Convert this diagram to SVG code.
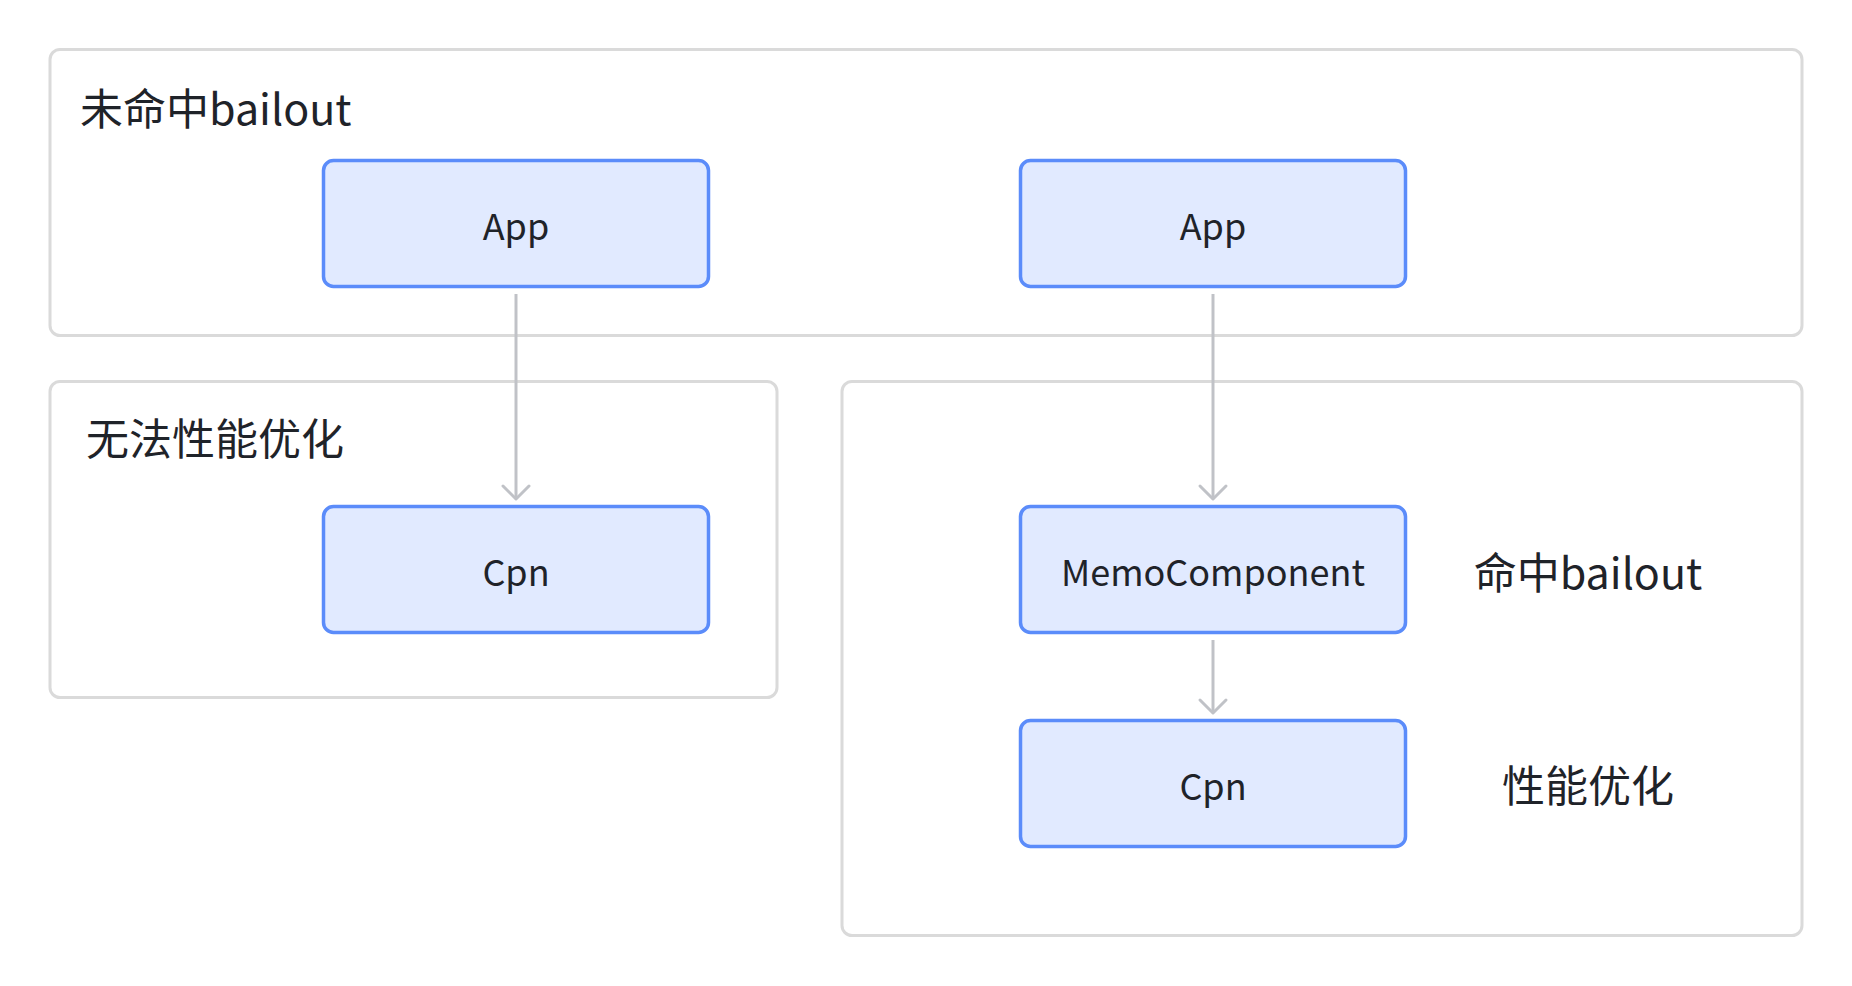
<svg xmlns="http://www.w3.org/2000/svg" width="1852" height="986" viewBox="0 0 1852 986">
  <style>
    .container { fill: #ffffff; stroke: #dadada; stroke-width: 3; }
    .node rect { fill: #e1eaff; stroke: #5b8cfa; stroke-width: 3.5; }
    .node text { font-family: "Noto Sans CJK SC", "Noto Sans", sans-serif; font-size: 36px; fill: #1f2329; text-anchor: middle; }
    .label { font-family: "Noto Sans CJK SC", "Noto Sans", sans-serif; font-size: 43px; fill: #1f2329; }
    .edge { stroke: #c0c2c7; stroke-width: 3; fill: none; marker-end: url(#arrow); }
  </style>
  <defs>
    <marker id="arrow" markerUnits="userSpaceOnUse" viewBox="-16 -16 32 32" markerWidth="32" markerHeight="32" refX="0" refY="0" orient="auto">
      <path d="M -13 -13 L 0 0 L -13 13" fill="none" stroke="#c0c2c7" stroke-width="3" stroke-linecap="round" stroke-linejoin="round"/>
    </marker>
  </defs>
  <rect width="1852" height="986" fill="#ffffff"/>

  <g id="group-no-bailout">
    <rect class="container" x="50" y="49.5" width="1752" height="286" rx="10"/>
    <text class="label" x="80" y="125">未命中bailout</text>
  </g>
  <g id="group-no-optimize">
    <rect class="container" x="50" y="381.5" width="727" height="316" rx="10"/>
    <text class="label" x="86" y="455">无法性能优化</text>
  </g>
  <g id="group-bailout">
    <rect class="container" x="842" y="381.5" width="960" height="554" rx="10"/>
    <text class="label" x="1588" y="589" text-anchor="middle">命中bailout</text>
    <text class="label" x="1588" y="802" text-anchor="middle">性能优化</text>
  </g>

  <g id="connectors">
    <line class="edge" x1="516" y1="294" x2="516" y2="499"/>
    <line class="edge" x1="1213" y1="294" x2="1213" y2="499"/>
    <line class="edge" x1="1213" y1="640" x2="1213" y2="713"/>
  </g>

  <g id="node-app-1" class="node">
    <rect x="323.5" y="160.5" width="385" height="126" rx="10"/>
    <text x="516" y="239.5">App</text>
  </g>
  <g id="node-app-2" class="node">
    <rect x="1020.5" y="160.5" width="385" height="126" rx="10"/>
    <text x="1213" y="239.5">App</text>
  </g>
  <g id="node-cpn-1" class="node">
    <rect x="323.5" y="506.5" width="385" height="126" rx="10"/>
    <text x="516" y="586">Cpn</text>
  </g>
  <g id="node-memo" class="node">
    <rect x="1020.5" y="506.5" width="385" height="126" rx="10"/>
    <text x="1213" y="586">MemoComponent</text>
  </g>
  <g id="node-cpn-2" class="node">
    <rect x="1020.5" y="720.5" width="385" height="126" rx="10"/>
    <text x="1213" y="800">Cpn</text>
  </g>
</svg>
